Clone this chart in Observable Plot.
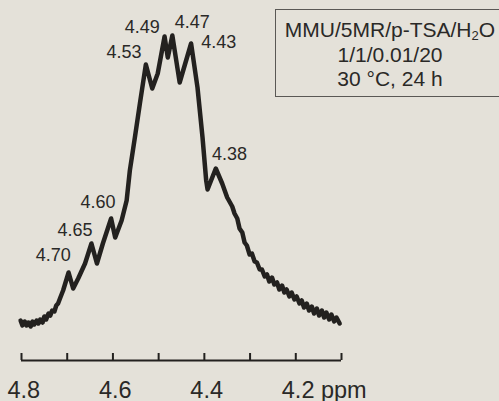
<!DOCTYPE html>
<html><head><meta charset="utf-8">
<script src="https://cdn.jsdelivr.net/npm/d3@7"></script>
<script src="https://cdn.jsdelivr.net/npm/@observablehq/plot@0.6"></script>
<style>
html,body{margin:0;padding:0;background:#e4e1d9;overflow:hidden;width:499px;height:401px}
#wrap{position:relative;width:499px;height:401px}
#legend{position:absolute;left:275px;top:9px;width:260px;height:88px;border:1.5px solid #5a5855;box-sizing:border-box;font-family:"Liberation Sans",Arial,sans-serif;font-size:21px;color:#2a2927}
#legend .t{position:absolute;left:0;top:8px;width:228px;text-align:center;line-height:24.5px}
#legend sub{font-size:0.62em;line-height:0;vertical-align:-0.22em}
</style></head><body><div id="wrap"></div>
<script>
// 1H NMR spectrum, chemical shift in ppm and intensity (a.u.)
const ppm = [4.802,4.798,4.793,4.789,4.785,4.780,4.776,4.772,4.767,4.763,4.759,4.754,4.750,4.746,4.741,4.737,4.733,4.728,4.724,4.720,4.715,4.709,
  4.697,4.687,4.676,4.661,4.647,4.635,4.622,4.604,4.595,4.581,4.570,4.563,4.552,4.541,4.528,4.514,4.502,4.487,4.480,4.470,4.454,4.429,4.415,4.404,4.396,4.393,4.375,4.361,4.350,
  4.339,4.334,4.328,4.323,4.317,4.312,4.307,4.301,4.296,4.290,4.285,4.279,4.274,4.268,4.263,4.258,4.252,4.247,4.241,4.236,4.230,4.225,4.220,4.214,4.209,4.203,4.198,4.192,4.187,4.182,4.176,4.171,4.165,4.160,4.154,4.149,4.143,4.138,4.133,4.127,4.122,4.116,4.111,4.104];
const intensity = [40,35,39,35,38,34,39,36,40,37,41,38,44,41,47,45,50,49,55,57,63,70,
  88,72,82,97,117,97,117,142,123,140,160,190,223,257,296,272,287,324,303,325,278,317,273,223,180,171,192,177,163,
  154,147,142,132,128,118,115,106,107,99,98,91,91,84,86,79,83,76,78,71,75,68,71,64,68,61,64,57,60,53,57,50,54,47,52,45,50,43,48,41,46,39,43,37];

const peakPpm = [4.70,4.65,4.60,4.53,4.49,4.47,4.43,4.38];
const peakIntensity = [88,117,144,297,325,326,318,193];

const tickValues = [4.8,4.7,4.6,4.5,4.4,4.3,4.2,4.1];
const tickLabelValues = [4.8,4.6,4.4,4.2];
const tickLabels = ["4.8","4.6","4.4","4.2 ppm"];

const legendLines = ["MMU/5MR/p-TSA/H<sub>2</sub>O","1/1/0.01/20","30 °C, 24 h"];

// layout (label offsets in px)
const peakOffsets = [[-14,-12],[-15,-8],[-15,-9],[-21,-6],[-21,-3],[20,-7],[28,5],[16,-8]];

const spectrum = ppm.map((p,i)=>({ppm:p, I:intensity[i]}));
const peaks = peakPpm.map((p,i)=>({ppm:p, I:peakIntensity[i], label:p.toFixed(2)}));
const labels = tickLabelValues.map((v,i)=>({v, t:tickLabels[i]}));

const ink = "#23211f";
const txt = "#2a2927";
const font = "Liberation Sans, Arial, sans-serif";

const chart = Plot.plot({
  width: 499, height: 401,
  marginLeft: 21, marginRight: 158, marginTop: 20, marginBottom: 41,
  style: {background: "transparent", fontFamily: font, color: txt, overflow: "visible"},
  x: {domain: [4.8, 4.1], axis: null},
  y: {domain: [0, 340], axis: null},
  marks: [
    Plot.ruleY([0], {x1: 4.8, x2: 4.1, stroke: ink, strokeWidth: 2}),
    Plot.ruleX(tickValues, {y1: 0, y2: 7, stroke: ink, strokeWidth: 2}),
    Plot.line(spectrum, {x: "ppm", y: "I", stroke: ink, strokeWidth: 4.5, strokeLinejoin: "round", strokeLinecap: "round"}),
    ...peaks.map((d,i)=>Plot.text([d], {x: "ppm", y: "I", text: "label", dx: peakOffsets[i][0], dy: peakOffsets[i][1], lineAnchor: "bottom", textAnchor: "middle", fontSize: 18, fill: txt})),
    Plot.text(labels, {x: "v", y: () => 0, text: "t", dx: -14, dy: 37, lineAnchor: "bottom", textAnchor: "start", fontSize: 23.5, fill: txt})
  ]
});
const wrap = document.getElementById("wrap");
wrap.appendChild(chart);
const lg = document.createElement("div");
lg.id = "legend";
lg.innerHTML = '<div class="t">' + legendLines.map(s=>"<div>"+s+"</div>").join("") + "</div>";
wrap.appendChild(lg);
</script></body></html>
